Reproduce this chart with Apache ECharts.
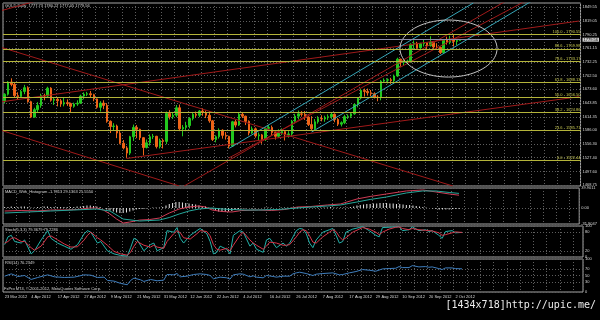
<!DOCTYPE html>
<html><head><meta charset="utf-8">
<script src="https://cdn.jsdelivr.net/npm/echarts@6/dist/echarts.min.js"></script>
<style>html,body{margin:0;padding:0;background:#000;}#c{width:600px;height:320px;}</style>
</head><body><div id="c"></div>
<script>
// ---------------- DATA ----------------
const dates = ["23 Mar 2012","26 Mar 2012","27 Mar 2012","28 Mar 2012","29 Mar 2012","30 Mar 2012",
"2 Apr 2012","3 Apr 2012","4 Apr 2012","5 Apr 2012","9 Apr 2012","10 Apr 2012","11 Apr 2012","12 Apr 2012","13 Apr 2012","16 Apr 2012","17 Apr 2012","18 Apr 2012","19 Apr 2012","20 Apr 2012","23 Apr 2012","24 Apr 2012","25 Apr 2012","26 Apr 2012","27 Apr 2012","30 Apr 2012",
"1 May 2012","2 May 2012","3 May 2012","4 May 2012","7 May 2012","8 May 2012","9 May 2012","10 May 2012","11 May 2012","14 May 2012","15 May 2012","16 May 2012","17 May 2012","18 May 2012","21 May 2012","22 May 2012","23 May 2012","24 May 2012","25 May 2012","28 May 2012","29 May 2012","30 May 2012","31 May 2012",
"1 Jun 2012","4 Jun 2012","5 Jun 2012","6 Jun 2012","7 Jun 2012","8 Jun 2012","11 Jun 2012","12 Jun 2012","13 Jun 2012","14 Jun 2012","15 Jun 2012","18 Jun 2012","19 Jun 2012","20 Jun 2012","21 Jun 2012","22 Jun 2012","25 Jun 2012","26 Jun 2012","27 Jun 2012","28 Jun 2012","29 Jun 2012",
"2 Jul 2012","3 Jul 2012","4 Jul 2012","5 Jul 2012","6 Jul 2012","9 Jul 2012","10 Jul 2012","11 Jul 2012","12 Jul 2012","13 Jul 2012","16 Jul 2012","17 Jul 2012","18 Jul 2012","19 Jul 2012","20 Jul 2012","23 Jul 2012","24 Jul 2012","25 Jul 2012","26 Jul 2012","27 Jul 2012","30 Jul 2012","31 Jul 2012",
"1 Aug 2012","2 Aug 2012","3 Aug 2012","6 Aug 2012","7 Aug 2012","8 Aug 2012","9 Aug 2012","10 Aug 2012","13 Aug 2012","14 Aug 2012","15 Aug 2012","16 Aug 2012","17 Aug 2012","20 Aug 2012","21 Aug 2012","22 Aug 2012","23 Aug 2012","24 Aug 2012","27 Aug 2012","28 Aug 2012","29 Aug 2012","30 Aug 2012","31 Aug 2012",
"3 Sep 2012","4 Sep 2012","5 Sep 2012","6 Sep 2012","7 Sep 2012","10 Sep 2012","11 Sep 2012","12 Sep 2012","13 Sep 2012","14 Sep 2012","17 Sep 2012","18 Sep 2012","19 Sep 2012","20 Sep 2012","21 Sep 2012","24 Sep 2012","25 Sep 2012","26 Sep 2012","27 Sep 2012","28 Sep 2012",
"1 Oct 2012","2 Oct 2012","3 Oct 2012","4 Oct 2012"];
const FUTURE_SLOTS = 36;

const open = [1648,1663,1689,1684,1660,1658,1669,1677,1647,1614,
1630,1639,1660,1659,1676,1650,1652,1649,1642,1645,
1643,1637,1642,1644,1659,1663,1664,1662,1653,1635,
1644,1639,1605,1594,1595,1580,1558,1548,1537,1572,
1592,1588,1570,1549,1559,1572,1573,1551,1564,1562,
1622,1615,1618,1634,1589,1592,1596,1611,1620,1618,
1627,1624,1618,1606,1566,1572,1586,1575,1573,1552,
1604,1597,1620,1616,1605,1580,1589,1574,1576,1566,
1590,1592,1581,1573,1580,1583,1576,1578,1605,1616,
1621,1620,1614,1598,1589,1604,1611,1610,1613,1615,
1620,1609,1599,1602,1615,1616,1621,1641,1655,1671,
1669,1666,1664,1657,1656,1691,1693,1694,1692,1702,
1738,1731,1733,1734,1770,1772,1762,1771,1773,1767,
1774,1764,1763,1752,1779,1774,1779,1776,1777.73];
const close = [1663,1689,1684,1660,1658,1669,1677,1647,1614,1630,
1639,1660,1659,1676,1650,1652,1649,1642,1645,1643,
1637,1642,1644,1659,1663,1664,1662,1653,1635,1644,
1639,1605,1594,1595,1580,1558,1548,1537,1572,1592,
1588,1570,1549,1559,1572,1573,1551,1564,1562,1622,
1615,1618,1634,1589,1592,1596,1611,1620,1618,1627,
1624,1618,1606,1566,1572,1586,1575,1573,1552,1604,
1597,1620,1616,1605,1580,1589,1574,1576,1566,1590,
1592,1581,1573,1580,1583,1576,1578,1605,1616,1621,
1620,1614,1598,1589,1604,1611,1610,1613,1615,1620,
1609,1599,1602,1615,1616,1621,1641,1655,1671,1669,
1666,1664,1657,1656,1691,1693,1694,1692,1702,1738,
1731,1733,1734,1770,1772,1762,1771,1773,1767,1774,
1764,1763,1752,1779,1774,1779,1776,1777.73,1779.56];
const high = [1665,1691,1697,1687,1667,1672,1683,1680,1649,1634,
1646,1664,1664,1679,1678,1656,1655,1653,1655,1652,
1645,1645,1650,1662,1667,1668,1670,1664,1654,1648,
1650,1644,1607,1601,1598,1584,1565,1552,1574,1598,
1597,1589,1571,1566,1577,1578,1574,1568,1568,1626,
1629,1623,1640,1641,1597,1604,1614,1625,1626,1629,
1633,1628,1627,1608,1575,1590,1588,1582,1574,1606,
1608,1625,1623,1617,1607,1594,1592,1581,1578,1592,
1597,1596,1584,1588,1590,1584,1584,1608,1621,1628,
1627,1627,1616,1616,1610,1616,1618,1617,1620,1624,
1622,1612,1605,1619,1620,1624,1643,1657,1674,1675,
1675,1672,1667,1661,1693,1697,1697,1698,1705,1741,
1739,1738,1737,1772,1778,1775,1773,1779,1774,1787,
1776,1772,1765,1781,1786,1788,1790.55,1779,1780.27];
const low = [1643,1660,1680,1656,1651,1656,1663,1645,1612,1613,
1625,1634,1650,1656,1647,1640,1637,1636,1637,1638,
1625,1634,1638,1642,1652,1659,1656,1648,1632,1626,
1631,1602,1580,1586,1569,1556,1545,1527,1533,1563,
1569,1565,1532,1547,1553,1567,1547,1547,1547,1556,
1609,1610,1614,1584,1573,1584,1590,1607,1613,1614,
1617,1612,1602,1563,1560,1568,1568,1566,1547,1550,
1592,1595,1612,1597,1575,1578,1570,1565,1557,1563,
1584,1575,1566,1570,1576,1564,1570,1573,1600,1609,
1615,1608,1595,1585,1585,1600,1605,1604,1608,1610,
1603,1595,1594,1599,1610,1612,1619,1635,1652,1658,
1660,1659,1654,1648,1650,1689,1686,1685,1685,1700,
1722,1725,1727,1730,1760,1760,1758,1765,1757,1765,
1760,1760,1749,1751,1769,1770,1765,1768,1777.05];

const priceTicks = [1849.55,1819.05,1790.25,1761.15,1732.25,1702.50,1673.60,1643.85,1614.35,1586.00,1556.30,1527.40,1497.60,1468.75];
const fibNames = ["100.0","88.6","78.6","61.8","50.0","38.2","23.6","0.0"];
const fibPrices = [1790.55,1759.98,1733.17,1688.13,1656.50,1624.86,1585.71,1522.44];
const currentPrice = 1779.56;

const macdHist = [2,2,3,2,2,3,3,2,1,1,2,2,3,3,2,2,2,2,2,2,2,2,3,3,
4,5,5,4,3,2,
0,-3,-5,-7,-9,-10,-10,-9,-7,-5,
-3,-2,-2,-1,0,1,1,1,2,
5,8,10,12,12,11,10,9,8,7,5,4,
3,1,-2,
-5,-7,-8,-8,-7,-6,-4,
-2,-1,-1,0,-1,-1,0,0,1,1,1,0,0,1,1,1,1,2,2,
2,2,1,1,1,1,1,1,1,2,1,1,1,1,1,2,
3,5,6,7,8,8,9,9,10,10,10,9,9,8,8,7,6,6,5,4,
3,2,1,0,-1,
-2,-3,-3,-3,-3,-2,-2,-1.78];
const macdRed = [[0,-6],[5,-5],[10,-6],[14,-4],[18,-4],[22,-3],[26,0],[28,0],[30,-4],[32,-12],[34,-22],[36,-30],[38,-28],[41,-24],[44,-23],[47,-20],[50,-10],[53,-2],[56,2],[59,4],[61,2],[63,-4],[66,-7],[69,-8],[72,-5],[77,-4],[81,-5],[85,-3],[89,2],[93,3],[98,6],[102,8],[107,18],[111,23],[116,28],[122,34],[127,36],[131,32],[135,28],[138,25.56]];
const macdTeal = [[0,-10],[7,-8],[14,-6],[21,-4],[28,-2],[32,-6],[36,-22],[41,-26],[47,-24],[50,-19],[53,-12],[56,-6],[59,-2],[63,0],[66,-2],[69,-3],[73,-4],[77,-4],[83,-3],[89,0],[93,2],[98,4],[102,6],[107,12],[111,17],[116,22],[122,30],[127,34],[131,34],[135,31],[138,29.14]];
const macdTicks = [39.9011, 0, -31.9047];

const stochMain = [[0,40],[1,65],[2,70],[3,50],[5,45],[6,55],[8,10],[9,20],[11,55],[13,85],[14,60],[16,45],[18,35],[20,25],[22,40],[24,75],[25,85],[26,80],[28,45],[29,50],[31,20],[33,10],[35,5],[37,3],[38,30],[39,60],[40,55],[42,20],[44,40],[45,45],[46,20],[48,30],[49,85],[51,80],[52,95],[53,60],[54,45],[56,70],[58,85],[59,92],[61,75],[62,50],[63,10],[64,15],[65,35],[67,25],[68,10],[69,70],[71,85],[72,80],[74,35],[75,45],[76,25],[78,15],[79,55],[80,60],[82,30],[84,45],[85,35],[86,45],[88,85],[89,92],[90,90],[91,75],[92,45],[93,30],[94,55],[96,80],[98,88],[99,92],[100,70],[101,45],[102,50],[103,80],[105,90],[107,95],[108,98],[110,85],[112,70],[113,65],[114,95],[116,96],[118,97],[119,98],[120,85],[122,88],[123,97],[125,85],[127,88],[128,82],[129,85],[131,70],[132,60],[133,82],[135,85],[136,78],[138,79.37]];
const stochSignal = [[0,45],[1,50],[2,60],[3,62],[5,50],[6,50],[8,30],[9,22],[11,35],[13,65],[14,68],[16,55],[18,42],[20,32],[22,33],[24,55],[25,70],[26,80],[28,62],[29,55],[31,38],[33,18],[35,10],[37,6],[38,15],[39,35],[40,50],[42,38],[44,32],[45,38],[46,32],[48,28],[49,50],[51,75],[52,85],[53,78],[54,62],[56,58],[58,75],[59,85],[61,82],[62,68],[63,40],[64,25],[65,22],[67,28],[68,20],[69,38],[71,70],[72,80],[74,55],[75,45],[76,38],[78,25],[79,35],[80,48],[82,45],[84,38],[85,38],[86,40],[88,65],[89,80],[90,88],[91,85],[92,68],[93,48],[94,45],[96,65],[98,80],[99,88],[100,82],[101,65],[102,55],[103,62],[105,80],[107,90],[108,95],[110,90],[112,80],[113,72],[114,80],[116,90],[118,96],[119,97],[120,92],[122,88],[123,92],[125,88],[127,86],[128,85],[129,84],[131,78],[132,70],[133,72],[135,78],[136,81],[138,79.23]];
const stochTicks = [100,80,20,0];

const rsi = [[0,48],[2,55],[4,47],[6,50],[8,38],[10,44],[13,52],[15,46],[18,44],[21,45],[24,52],[26,51],[28,44],[30,45],[31,35],[33,33],[35,26],[37,22],[38,35],[39,42],[41,37],[42,32],[44,38],[46,34],[48,36],[49,53],[51,52],[52,56],[53,46],[55,48],[57,53],[59,55],[61,53],[62,50],[63,40],[65,45],[67,43],[68,39],[69,52],[71,55],[72,54],[74,46],[75,49],[76,45],[78,43],[79,50],[81,47],[82,45],[84,48],[86,48],[87,55],[88,58],[89,60],[91,56],[93,50],[94,54],[96,56],[99,58],[101,52],[102,53],[104,58],[106,62],[108,68],[110,66],[112,63],[114,70],[116,71],[118,72],[119,77],[120,74],[122,74],[123,80],[125,76],[127,77],[128,75],[129,76],[131,71],[132,68],[133,73],[135,73],[136,71],[138,70.23]];
const rsiTicks = [100,70,50,30,0];

// trendlines: [barIndex1, price1, barIndex2, price2]
const redTrendlines = [
  [-1.4,1764.0,135.8,1466.7],
  [-1.4,1586.5,52.9,1466.7],
  [-1.4,1646.3,174.1,1819.6],
  [36.9,1525.5,174.1,1657.7],
  [54.4,1466.7,152.4,1864.5],
  [67.9,1526.6,158.4,1864.5],
  [-1.4,1841.0,10.7,1864.5]
];
const cyanTrendlines = [
  [68,1547,142,1858],
  [93,1582,160,1863.4]
];
const ellipseShape = {cx:134.5, cy:1760.7, rx:14.7, ry:61};

// ---------------- CHART ----------------
const TXT = '#d8d8d8';
const GRIDC = '#5e5e5e';
const FONT = 'Liberation Sans';
const cats = dates.concat(Array.from({length:FUTURE_SLOTS},(_,k)=>'_'+k));
const candleData = open.map((o,i)=>[o, close[i], low[i], high[i]]);
const histData = macdHist.map((v,i)=>[i,v]);
const grids = [
  {left:3, right:17, top:3, height:183},
  {left:3, right:17, top:188, height:36},
  {left:3, right:17, top:226, height:31},
  {left:3, right:17, top:259, height:33}
].map(g=>Object.assign(g,{show:true, borderColor:'#a4a4a4', borderWidth:1, backgroundColor:'transparent'}));

const splitStyle = {show:true, lineStyle:{color:GRIDC, type:[1,2], width:1}};
function catAxis(gi, showLabels){
  return {type:'category', gridIndex:gi, data:cats, boundaryGap:true,
    axisLine:{show:false}, axisTick:{show:false},
    axisLabel:{show:showLabels, interval:7, align:'left', fontSize:4, color:TXT, fontFamily:FONT, margin:3,
      formatter:v=> v.charAt(0)==='_' ? '' : v},
    splitLine:Object.assign({interval:3}, splitStyle)};
}
function valAxis(gi, min, max, ticks, fmt){
  return {type:'value', gridIndex:gi, position:'right', min:min, max:max, scale:true,
    axisLine:{show:false}, axisTick:{show:false, customValues:ticks},
    axisLabel:{customValues:ticks, formatter:fmt, fontSize:4, color:TXT, fontFamily:FONT, margin:2},
    splitLine:splitStyle};
}
const xAxes = [catAxis(0,false), catAxis(1,false), catAxis(2,false), catAxis(3,true),
  {type:'value', gridIndex:0, min:-0.5, max:cats.length-0.5, show:false}];
const yAxes = [
  valAxis(0, 1466.67, 1858.1, priceTicks, v=>v.toFixed(2)),
  valAxis(1, -31.9047, 39.9011, macdTicks, v=> v===0 ? '0.00' : v.toFixed(4)),
  valAxis(2, 0, 100, stochTicks, v=>String(v)),
  valAxis(3, 0, 100, rsiTicks, v=>String(v))
];

const fibMark = fibPrices.map((p,k)=>({yAxis:p, name:fibNames[k]}));
fibMark.push({yAxis:currentPrice, name:'cur',
  lineStyle:{color:'#8c8ca8', type:'solid', width:1},
  label:{position:'end', formatter:currentPrice.toFixed(2), backgroundColor:'#d0d0d0', color:'#000', padding:[0,1], distance:2, fontSize:4}});

const series = [
  {type:'candlestick', xAxisIndex:0, yAxisIndex:0, data:candleData, barWidth:2,
    itemStyle:{color:'#22c81e', color0:'#ee6418', borderColor:'#22c81e', borderColor0:'#ee6418', borderWidth:1},
    markLine:{silent:true, symbol:['none','none'], animation:false,
      lineStyle:{color:'#b4b43a', type:'solid', width:1},
      label:{show:true, position:'insideEndTop', distance:[0,0.5], fontSize:4, color:'#c8c850', fontFamily:FONT,
        formatter:p=> p.name + ' - ' + Number(p.value).toFixed(2)},
      data:fibMark}
  }
];
redTrendlines.forEach(t=>series.push({type:'line', xAxisIndex:4, yAxisIndex:0, data:[[t[0],t[1]],[t[2],t[3]]],
  showSymbol:false, clip:true, silent:true, lineStyle:{color:'#a01a1a', width:1}}));
cyanTrendlines.forEach(t=>series.push({type:'line', xAxisIndex:4, yAxisIndex:0, data:[[t[0],t[1]],[t[2],t[3]]],
  showSymbol:false, clip:true, silent:true, lineStyle:{color:'#36a6b8', width:1}}));
const ellPts = [];
for(let k=0;k<=80;k++){const a=k/80*Math.PI*2; ellPts.push([ellipseShape.cx+ellipseShape.rx*Math.cos(a), ellipseShape.cy+ellipseShape.ry*Math.sin(a)]);}
series.push({type:'line', xAxisIndex:4, yAxisIndex:0, data:ellPts, showSymbol:false, clip:true, silent:true, lineStyle:{color:'#c4c4c4', width:1}});

series.push({type:'bar', xAxisIndex:1, yAxisIndex:1, data:histData, barWidth:1, itemStyle:{color:'#e6e6e6'}, silent:true});
series.push({type:'line', xAxisIndex:1, yAxisIndex:1, data:macdRed, showSymbol:false, silent:true, lineStyle:{color:'#d03c55', width:1}});
series.push({type:'line', xAxisIndex:1, yAxisIndex:1, data:macdTeal, showSymbol:false, silent:true, lineStyle:{color:'#25a79a', width:1}});
series.push({type:'line', xAxisIndex:2, yAxisIndex:2, data:stochMain, showSymbol:false, silent:true, lineStyle:{color:'#22b2aa', width:1}});
series.push({type:'line', xAxisIndex:2, yAxisIndex:2, data:stochSignal, showSymbol:false, silent:true, lineStyle:{color:'#d8364a', width:1}});
series.push({type:'line', xAxisIndex:3, yAxisIndex:3, data:rsi, showSymbol:false, silent:true, lineStyle:{color:'#3f7fbf', width:1}});

function txt(left, top, text, size, color, family){
  return {type:'text', left:left, top:top, silent:true, style:{text:text, fill:color||TXT, fontSize:size||4, fontFamily:family||FONT}};
}
const chart = echarts.init(document.getElementById('c'), null, {renderer:'canvas', width:600, height:320});
chart.setOption({
  backgroundColor:'#000', animation:false,
  grid:grids, xAxis:xAxes, yAxis:yAxes, series:series,
  graphic:[
    txt(5,4,'GOLD,Daily  1777.73 1780.27 1777.05 1779.56'),
    txt(5,190,'MACD_With_Histogram -1.7813 29.1363 25.5550'),
    txt(5,228,'Stoch(5,3,3) 79.3679 79.2286'),
    txt(5,261,'RSI(14) 70.2349'),
    txt(4,287,'FxPro MT4, \u00a9 2001-2012, MetaQuotes Software Corp.'),
    {type:'text', right:4, top:300, silent:true, style:{text:'[1434x718]http://upic.me/', fill:'#ececec', fontSize:10, fontFamily:'DejaVu Sans Mono'}}
  ]
});
</script></body></html>
